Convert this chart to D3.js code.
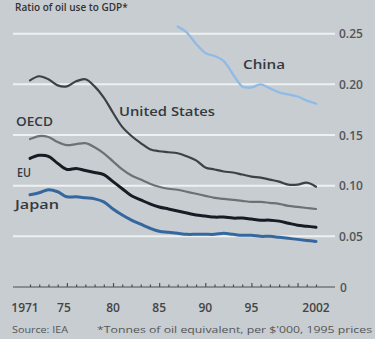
<!DOCTYPE html>
<html>
<head>
<meta charset="utf-8">
<script src="https://cdn.jsdelivr.net/npm/d3@7"></script>
<style>
  html, body { margin: 0; padding: 0; background: #c7cdd1; }
  svg { display: block; font-family: "Open Sans", "Noto Sans", sans-serif; }
</style>
</head>
<body>
<svg id="chart" width="375" height="339"></svg>
<script>
// Ratio of oil use to GDP (tonnes of oil equivalent per $'000, 1995 prices)
const years = d3.range(1971, 2003);

const unitedStates = [0.204, 0.208, 0.205, 0.199, 0.198, 0.203, 0.205, 0.198, 0.187, 0.172,
  0.158, 0.149, 0.142, 0.136, 0.134, 0.133, 0.132, 0.129, 0.125, 0.118,
  0.116, 0.114, 0.113, 0.111, 0.109, 0.108, 0.106, 0.104, 0.101, 0.101, 0.103, 0.099];

const oecd = [0.146, 0.149, 0.148, 0.143, 0.140, 0.141, 0.142, 0.138, 0.132, 0.124,
  0.116, 0.110, 0.106, 0.102, 0.099, 0.097, 0.096, 0.094, 0.092, 0.090,
  0.088, 0.087, 0.086, 0.085, 0.084, 0.084, 0.083, 0.082, 0.080, 0.079, 0.078, 0.077];

const eu = [0.127, 0.130, 0.129, 0.122, 0.116, 0.117, 0.115, 0.113, 0.111, 0.104,
  0.097, 0.090, 0.086, 0.082, 0.079, 0.077, 0.075, 0.073, 0.071, 0.070,
  0.069, 0.069, 0.068, 0.068, 0.067, 0.066, 0.066, 0.065, 0.063, 0.061, 0.060, 0.059];

const japan = [0.091, 0.093, 0.096, 0.094, 0.089, 0.089, 0.088, 0.087, 0.084, 0.077,
  0.071, 0.066, 0.062, 0.058, 0.055, 0.054, 0.053, 0.052, 0.052, 0.052,
  0.052, 0.053, 0.052, 0.051, 0.051, 0.050, 0.050, 0.049, 0.048, 0.047, 0.046, 0.045];

const chinaYears = d3.range(1987, 2003);
const china = [0.257, 0.251, 0.240, 0.231, 0.228, 0.223, 0.210, 0.198, 0.197, 0.200,
  0.196, 0.192, 0.190, 0.188, 0.184, 0.181];

const yTicks = [0, 0.05, 0.10, 0.15, 0.20, 0.25];
const yTickLabels = ["0", "0.05", "0.10", "0.15", "0.20", "0.25"];
const xTicks = [1971, 1975, 1980, 1985, 1990, 1995, 2002];
const xTickLabels = ["1971", "75", "80", "85", "90", "95", "2002"];

const svg = d3.select("#chart");
const x = d3.scaleLinear().domain([1971, 2002]).range([30, 316]);
const y = d3.scaleLinear().domain([0, 0.25]).range([287, 33.7]);
const gridLeft = 13, gridRight = 335;

// title along the top edge
svg.append("text")
  .attr("x", 15).attr("y", 11)
  .attr("font-size", 10).attr("font-weight", 600).attr("fill", "#333")
  .text("Ratio of oil use to GDP*");

// horizontal gridlines
svg.append("g").selectAll("line")
  .data(yTicks.filter(d => d > 0))
  .join("line")
  .attr("x1", gridLeft).attr("x2", gridRight)
  .attr("y1", d => y(d)).attr("y2", d => y(d))
  .attr("stroke", "#eef1f2").attr("stroke-width", 2);

// right-hand value labels
svg.append("g").selectAll("text")
  .data(yTicks)
  .join("text")
  .attr("x", d => d === 0 ? 340 : 339)
  .attr("y", d => y(d) + 4.5)
  .attr("font-size", 12).attr("font-weight", 600).attr("fill", "#555")
  .text((d, i) => yTickLabels[i]);

// baseline axis with year ticks
const axis = d3.axisTop(x)
  .tickValues(years)
  .tickSize(0)
  .tickFormat("");
const axisG = svg.append("g").attr("transform", `translate(0,${y(0)})`).call(axis);
axisG.select(".domain").remove();
axisG.append("line")
  .attr("x1", gridLeft).attr("x2", gridRight)
  .attr("stroke", "#4a4f52").attr("stroke-width", 1.2);
axisG.selectAll(".tick line")
  .attr("y2", d => (d % 5 === 0) ? -4 : -2.5)
  .attr("stroke", "#4a4f52").attr("stroke-width", 1.2);

// year labels
svg.append("g").selectAll("text")
  .data(xTicks)
  .join("text")
  .attr("x", (d, i) => x(d) + (i === 0 ? -5 : i === 1 ? -3 : 0))
  .attr("y", 312)
  .attr("text-anchor", "middle")
  .attr("font-size", 12).attr("font-weight", 600).attr("fill", "#444")
  .text((d, i) => xTickLabels[i]);

// series lines
const line = d3.line().x(d => x(d[0])).y(d => y(d[1])).curve(d3.curveCatmullRom.alpha(0.5));
const series = [
  { name: "OECD", values: oecd, yrs: years, color: "#6c7174", width: 2.2 },
  { name: "United States", values: unitedStates, yrs: years, color: "#3b4246", width: 2.2 },
  { name: "Japan", values: japan, yrs: years, color: "#35679f", width: 3 },
  { name: "EU", values: eu, yrs: years, color: "#151c24", width: 3 },
  { name: "China", values: china, yrs: chinaYears, color: "#8fbbe6", width: 2.3 }
];
svg.append("g").selectAll("path")
  .data(series)
  .join("path")
  .attr("d", s => line(s.yrs.map((yr, i) => [yr, s.values[i]])))
  .attr("fill", "none")
  .attr("stroke", s => s.color)
  .attr("stroke-width", s => s.width)
  .attr("stroke-linejoin", "round")
  .attr("stroke-linecap", "round");

// series labels
const seriesLabels = [
  { text: "China", x: 243, y: 69, len: 42 },
  { text: "United States", x: 119, y: 116, len: 96 },
  { text: "OECD", x: 16, y: 126, len: 37 },
  { text: "EU", x: 17, y: 177, len: 14 },
  { text: "Japan", x: 15, y: 209, len: 44 }
];
svg.append("g").selectAll("text")
  .data(seriesLabels)
  .join("text")
  .attr("x", d => d.x).attr("y", d => d.y)
  .attr("textLength", d => d.len).attr("lengthAdjust", "spacingAndGlyphs")
  .attr("font-size", 13).attr("font-weight", 600).attr("fill", "#343a3e")
  .text(d => d.text);

// footer
svg.append("text")
  .attr("x", 12).attr("y", 333)
  .attr("font-size", 9).attr("fill", "#555")
  .attr("textLength", 56).attr("lengthAdjust", "spacingAndGlyphs")
  .text("Source: IEA");
svg.append("text")
  .attr("x", 97).attr("y", 333)
  .attr("font-size", 9).attr("fill", "#555")
  .attr("textLength", 275).attr("lengthAdjust", "spacingAndGlyphs")
  .text("*Tonnes of oil equivalent, per $'000, 1995 prices");
</script>
</body>
</html>
